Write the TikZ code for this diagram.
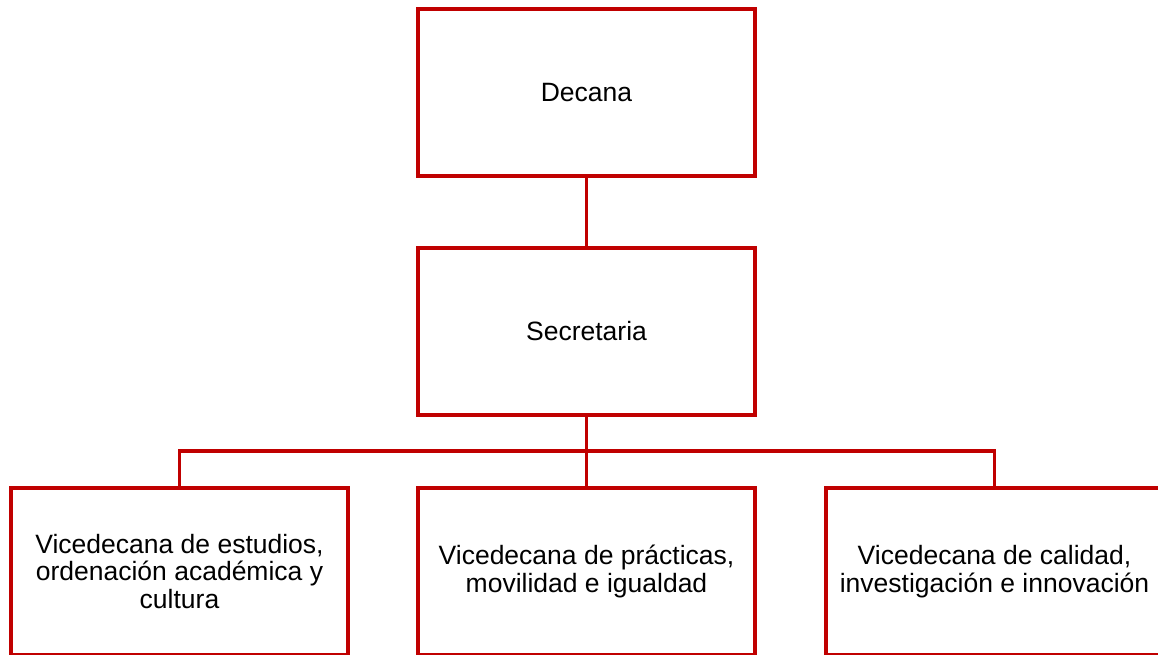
\documentclass[tikz,border=0pt]{standalone}
\usepackage{fontspec}
\setmainfont{Liberation Sans}
\usepackage{tikz}
\usetikzlibrary{positioning}

\definecolor{orgred}{HTML}{C00000}

\begin{document}
\begin{tikzpicture}[x=1pt,y=-1pt,
		box/.style={draw=orgred, line width=3.6pt, minimum width=337pt, minimum height=167pt,
			inner sep=0pt, align=center, font=\fontsize{26.5}{27.7}\selectfont},
		link/.style={draw=orgred, line width=3.6pt}]
		% page frame
		\useasboundingbox (0,0) rectangle (1158,654);
		\clip (0,0) rectangle (1158,654);
		% boxes
		\node[box] (decana) at (586.5,92.5) {Decana};
		\node[box] (secretaria) at (586.5,331.5) {Secretaria};
		\node[box] (estudios) at (179.5,571.5) {Vicedecana de estudios,\\ordenación académica y\\cultura};
		\node[box] (practicas) at (586.5,571.5) {Vicedecana de prácticas,\\movilidad e igualdad};
		\node[box] (calidad) at (994.5,571.5) {Vicedecana de calidad,\\investigación e innovación};
		% connectors
		\draw[link] (decana.south) -- (secretaria.north);
		\draw[link] (secretaria.south) -- (practicas.north);
		\draw[link] (estudios.north) -- ++(0,-35) -| (calidad.north);
	\end{tikzpicture}
\end{document}
